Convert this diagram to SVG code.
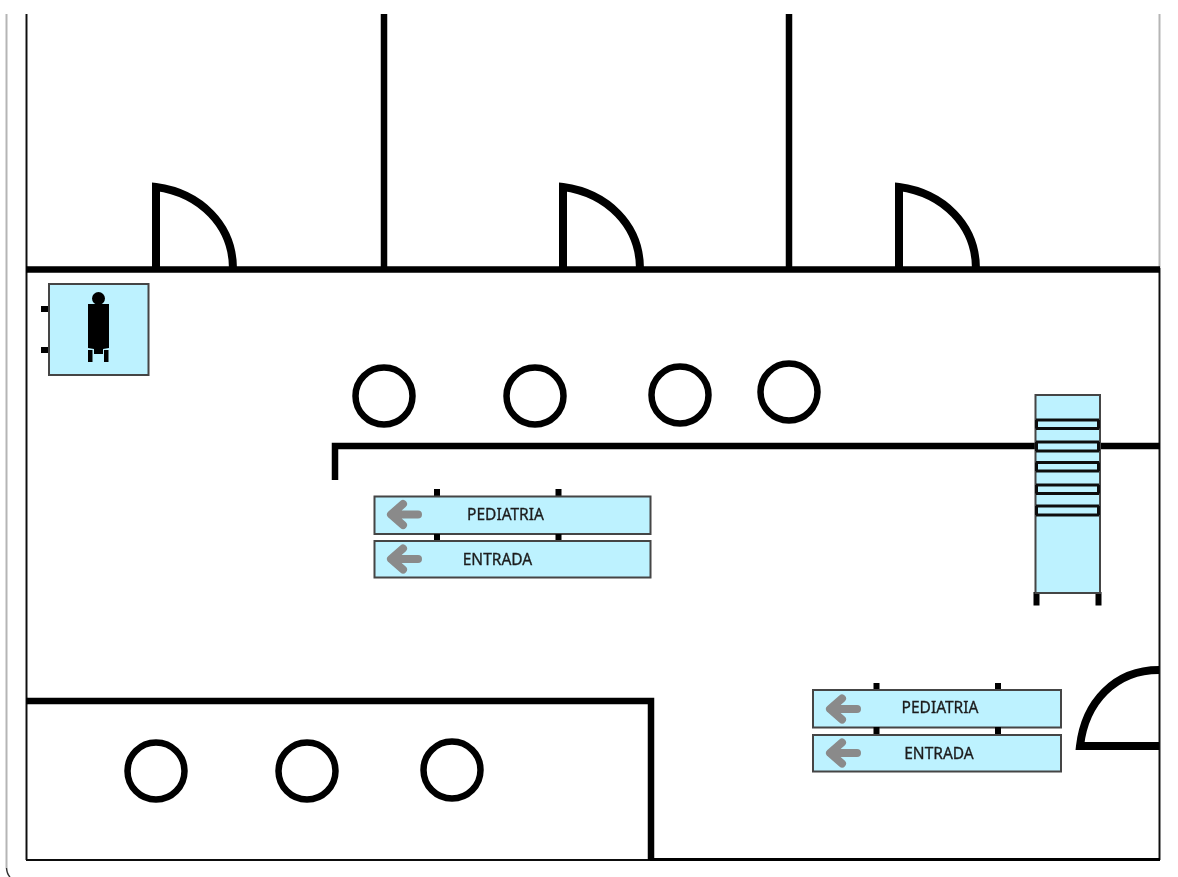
<svg xmlns="http://www.w3.org/2000/svg" width="1178" height="877" viewBox="0 0 1178 877">
<defs>
<filter id="soft" x="0" y="0" width="1178" height="877" filterUnits="userSpaceOnUse"><feGaussianBlur stdDeviation="0.55"/></filter>
<style>
.wall{fill:none;stroke:#000;stroke-width:6.500;stroke-linejoin:miter}
.door{fill:none;stroke:#000;stroke-width:8;stroke-linejoin:miter}
.thin{fill:none;stroke:#111;stroke-width:2}
.faint{fill:none;stroke:#b5b5b5;stroke-width:2}
.seat{fill:#fff;stroke:#000;stroke-width:6.500}
.panel{fill:#bdf2ff;stroke:#444;stroke-width:2}
.tab{fill:#000}
.rung{fill:none;stroke:#111;stroke-width:3}
.arrow{fill:none;stroke:#8a8a8a;stroke-width:8;stroke-linecap:round;stroke-linejoin:round}
.label{font-family:"Noto Sans","Open Sans",sans-serif;font-size:15.500px;fill:#1c1c1c;stroke:#1c1c1c;stroke-width:.3;text-anchor:middle}
</style>
</defs>
<rect width="1178" height="877" fill="#fff"/>
<g filter="url(#soft)">
<g id="frame">
<path class="faint" d="M6.500 14V868"/>
<path d="M6.500 868Q7 874 10 877" fill="none" stroke="#333" stroke-width="1.500"/>
<path class="faint" d="M1159.500 14V268"/>
<path class="thin" d="M26.500 14V860"/>
<path class="thin" d="M1159.500 268V860"/>
<path class="thin" d="M26 860H650"/>
<path d="M650 859.500H1160" fill="none" stroke="#000" stroke-width="3"/>
</g>
<g id="walls">
<path class="wall" d="M26 269.500H1160"/>
<path class="wall" d="M384 14V269M789 14V269"/>
<path class="wall" d="M335 480V446H1160"/>
<path class="wall" d="M26 701H651V860"/>
</g>
<g id="doors">
<path class="door" d="M156 269V187C200 193 233 225 233 269"/>
<path class="door" d="M563 269V187C607 193 640 225 640 269"/>
<path class="door" d="M899 269V187C943 193 976 225 976 269"/>
<path class="door" d="M1159 746H1080C1085 702 1115 670 1159 670"/>
</g>
<g id="seats">
<circle class="seat" cx="384" cy="396" r="28.500"/>
<circle class="seat" cx="535" cy="396" r="28.500"/>
<circle class="seat" cx="680" cy="395" r="28.500"/>
<circle class="seat" cx="789" cy="392" r="28.500"/>
<circle class="seat" cx="156" cy="771" r="28.500"/>
<circle class="seat" cx="307" cy="771" r="28.500"/>
<circle class="seat" cx="452" cy="770" r="28.500"/>
</g>
<g id="person-sign">
<rect class="tab" x="41" y="306" width="8" height="6"/>
<rect class="tab" x="41" y="347" width="8" height="6"/>
<rect class="panel" x="49" y="284" width="99.500" height="91"/>
<circle class="tab" cx="98.500" cy="298.500" r="6.500"/>
<path class="tab" d="M88 304H109V348L103 349V354H94V349L88 348Z"/>
<rect class="tab" x="88" y="350" width="4.500" height="12"/>
<rect class="tab" x="104" y="350" width="4.500" height="12"/>
</g>
<g id="sign-pediatria-1">
<rect class="tab" x="434" y="489" width="6" height="8"/>
<rect class="tab" x="555.500" y="489" width="6" height="8"/>
<rect class="panel" x="374.500" y="496.500" width="276" height="37.500"/>
<path class="arrow" d="M418 514.500H392M403 504L391 514.500L403 525"/>
<text class="label" x="505.500" y="519.500">PEDIATRIA</text>
</g>
<g id="sign-entrada-1">
<rect class="tab" x="434" y="534" width="6" height="7"/>
<rect class="tab" x="555.500" y="534" width="6" height="7"/>
<rect class="panel" x="374.500" y="541" width="276" height="36.500"/>
<path class="arrow" d="M418 559H392M403 548.500L391 559L403 569.500"/>
<text class="label" x="497.500" y="564.500">ENTRADA</text>
</g>
<g id="sign-pediatria-2">
<rect class="tab" x="873.500" y="683" width="6" height="8"/>
<rect class="tab" x="995" y="683" width="6" height="8"/>
<rect class="panel" x="813" y="690" width="248" height="37.500"/>
<path class="arrow" d="M857 709H831M842 698.500L830 709L842 719.500"/>
<text class="label" x="940" y="712.500">PEDIATRIA</text>
</g>
<g id="sign-entrada-2">
<rect class="tab" x="873.500" y="727" width="6" height="8"/>
<rect class="tab" x="995" y="727" width="6" height="8"/>
<rect class="panel" x="813" y="735" width="248" height="36.500"/>
<path class="arrow" d="M857 753H831M842 742.500L830 753L842 763.500"/>
<text class="label" x="939" y="758.500">ENTRADA</text>
</g>
<g id="ladder">
<rect class="tab" x="1033.500" y="592" width="6" height="13.500"/>
<rect class="tab" x="1095.500" y="592" width="6" height="13.500"/>
<rect class="panel" x="1035.500" y="395" width="64.500" height="198" stroke="#333"/>
<path class="rung" d="M1036 420H1099M1036 428.500H1099M1036 442H1099M1036 451H1099M1036 462.500H1099M1036 471H1099M1036 485H1099M1036 493.500H1099M1036 506H1099M1036 515H1099"/>
<path class="rung" d="M1036.500 420V428.500M1098.500 420V428.500M1036.500 442V451M1098.500 442V451M1036.500 462.500V471M1098.500 462.500V471M1036.500 485V493.500M1098.500 485V493.500M1036.500 506V515M1098.500 506V515"/>
</g>
</g>
</svg>
